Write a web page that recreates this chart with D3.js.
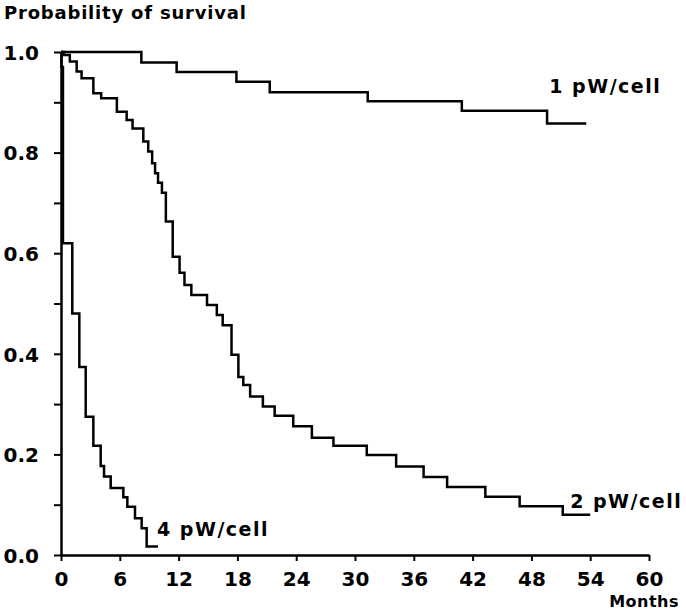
<!DOCTYPE html>
<html>
<head>
<meta charset="utf-8">
<script src="https://cdn.jsdelivr.net/npm/d3@7"></script>
<style>
  body { margin: 0; background: #fff; }
  text { font-family: "DejaVu Sans", sans-serif; font-weight: bold; fill: #000; }
</style>
</head>
<body>
<div id="chart"></div>
<script>
// survival curves (month, probability) - step after each point
const months1 = [0, 8.2, 11.8, 17.9, 21.3, 31.3, 40.9, 49.6, 53.6];
const surv1   = [1.0, 0.979, 0.960, 0.941, 0.920, 0.902, 0.883, 0.858, 0.858];

const months2 = [0, 0.3, 0.9, 1.6, 2.1, 3.3, 4.1, 5.7, 6.7, 7.3, 8.4, 8.9, 9.3, 9.6, 9.9, 10.3,
                 10.7, 11.4, 12.1, 12.6, 13.3, 14.9, 15.9, 16.5, 17.4, 18.1, 18.6, 19.3, 20.6,
                 21.8, 23.7, 25.6, 27.8, 31.2, 34.2, 37.0, 39.4, 43.3, 46.8, 51.2, 54.0];
const surv2   = [1.0, 0.994, 0.981, 0.961, 0.948, 0.918, 0.908, 0.881, 0.865, 0.848, 0.822, 0.802,
                 0.779, 0.759, 0.740, 0.720, 0.663, 0.593, 0.561, 0.537, 0.517, 0.497, 0.477,
                 0.457, 0.398, 0.354, 0.338, 0.315, 0.295, 0.277, 0.256, 0.233, 0.217, 0.199,
                 0.176, 0.155, 0.135, 0.116, 0.097, 0.080, 0.080];

const months4 = [0, 0.05, 0.2, 1.15, 1.87, 2.52, 3.3, 4.05, 4.39, 5.07, 6.36, 6.77, 7.55, 8.23, 8.74, 9.9];
const surv4   = [1.0, 0.97, 0.62, 0.48, 0.374, 0.275, 0.217, 0.177, 0.156, 0.133, 0.115, 0.096,
                 0.073, 0.053, 0.017, 0.017];

const seriesLabels = ["1 pW/cell", "2 pW/cell", "4 pW/cell"];
const xTicks = [0, 6, 12, 18, 24, 30, 36, 42, 48, 54, 60];
const yTicks = [0, 0.1, 0.2, 0.3, 0.4, 0.5, 0.6, 0.7, 0.8, 0.9, 1.0];

const W = 686, H = 612;
const margin = {top: 52, right: 37, bottom: 57, left: 61};
const width = W - margin.left - margin.right;
const height = H - margin.top - margin.bottom;

const svg = d3.select("#chart").append("svg")
    .attr("width", W)
    .attr("height", H);

const g = svg.append("g")
    .attr("transform", "translate(" + margin.left + "," + margin.top + ")");

const x = d3.scaleLinear().domain([0, 60]).range([0, width]);
const y = d3.scaleLinear().domain([0, 1]).range([height, 0]);

// axes
const yAxis = d3.axisLeft(y)
    .tickValues(yTicks)
    .tickSize(7)
    .tickSizeOuter(0)
    .tickPadding(15)
    .tickFormat(d => (Math.round(d * 10) % 2 === 0) ? d.toFixed(1) : "");

const xAxis = d3.axisBottom(x)
    .tickValues(xTicks)
    .tickSize(6)
    .tickSizeOuter(0)
    .tickPadding(11)
    .tickFormat(d3.format("d"));

const yG = g.append("g").attr("class", "y-axis").call(yAxis);
const xG = g.append("g").attr("class", "x-axis")
    .attr("transform", "translate(0," + height + ")")
    .call(xAxis);

[yG, xG].forEach(a => {
    a.select(".domain").attr("stroke", "#000").attr("stroke-width", 2.5);
    a.selectAll(".tick line").attr("stroke", "#000").attr("stroke-width", 2);
    a.selectAll(".tick text")
        .attr("font-size", 20)
        .attr("font-family", "DejaVu Sans")
        .attr("font-weight", "bold")
        .attr("fill", "#000");
});
yG.selectAll(".tick text").attr("dy", "0.36em");

// curves
const line = d3.line()
    .x(d => x(d[0]))
    .y(d => y(d[1]))
    .curve(d3.curveStepAfter);

const curves = [
    d3.zip(months1, surv1),
    d3.zip(months2, surv2),
    d3.zip(months4, surv4)
];

g.selectAll("path.curve")
    .data(curves)
    .join("path")
    .attr("class", "curve")
    .attr("d", line)
    .attr("fill", "none")
    .attr("stroke", "#000")
    .attr("stroke-width", 2.5);

// series labels, placed relative to each curve end
const labelPos = [
    {i: 0, dx: -37, dy: -30},
    {i: 1, dx: -20, dy: -7},
    {i: 2, dx: -1, dy: -10}
];
labelPos.forEach(p => {
    const c = curves[p.i];
    const last = c[c.length - 1];
    g.append("text")
        .attr("x", x(last[0]) + p.dx)
        .attr("y", y(last[1]) + p.dy)
        .attr("font-size", 19)
        .attr("letter-spacing", 1.5)
        .text(seriesLabels[p.i]);
});

// titles
svg.append("text")
    .attr("x", 4)
    .attr("y", 19)
    .attr("font-size", 18)
    .attr("letter-spacing", 0.8)
    .text("Probability of survival");

svg.append("text")
    .attr("x", 679)
    .attr("y", 607)
    .attr("text-anchor", "end")
    .attr("font-size", 16)
    .attr("letter-spacing", 0.5)
    .text("Months");
</script>
</body>
</html>
